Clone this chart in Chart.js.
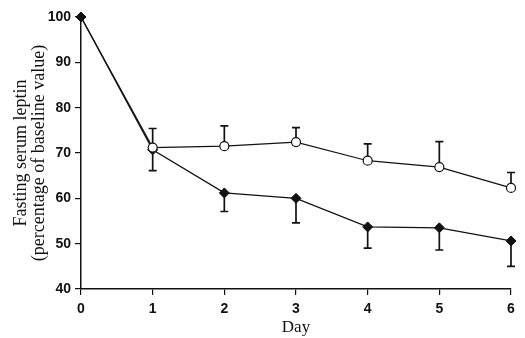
<!DOCTYPE html>
<html>
<head>
<meta charset="utf-8">
<script src="https://cdn.jsdelivr.net/npm/chart.js@4"></script>
<style>
  html, body { margin: 0; padding: 0; background: #fff; }
  #wrap { width: 525px; height: 338px; }
</style>
</head>
<body>
<div id="wrap"><canvas id="c" width="525" height="338"></canvas></div>
<script>
// data (% of baseline)
const days = [0, 1, 2, 3, 4, 5, 6];
const openMeans = [100, 71.2, 71.5, 72.4, 68.3, 66.9, 62.3];
const openErrUp = [0, 4.2, 4.5, 3.2, 3.7, 5.6, 3.4];
const filledMeans = [100, 70.7, 61.2, 60.0, 53.7, 53.5, 50.6];
const filledErrDown = [0, 4.6, 4.1, 5.4, 4.7, 4.9, 5.6];
const yTicks = [40, 50, 60, 70, 80, 90, 100];

const toXY = (vals) => vals.map((v, i) => ({ x: days[i], y: v }));

// error bars: open circles upward, diamonds downward
const errorBars = {
  id: 'errorBars',
  beforeDatasetsDraw(chart) {
    const { ctx, scales: { x, y } } = chart;
    const sets = [
      { means: openMeans, err: openErrUp, dir: 1 },
      { means: filledMeans, err: filledErrDown, dir: -1 }
    ];
    ctx.save();
    ctx.strokeStyle = '#111';
    ctx.lineWidth = 1.7;
    sets.forEach(s => {
      s.means.forEach((m, i) => {
        if (!s.err[i]) return;
        const px = x.getPixelForValue(days[i]);
        const y0 = y.getPixelForValue(m);
        const y1 = y.getPixelForValue(m + s.dir * s.err[i]);
        ctx.beginPath();
        ctx.moveTo(px, y0);
        ctx.lineTo(px, y1);
        ctx.moveTo(px - 4, y1);
        ctx.lineTo(px + 4, y1);
        ctx.stroke();
      });
    });
    ctx.restore();
  }
};

const tickFont = { family: 'Liberation Sans', size: 14, weight: 'bold' };

new Chart(document.getElementById('c'), {
  type: 'line',
  data: {
    datasets: [
      {
        label: 'open',
        data: toXY(openMeans),
        borderColor: '#111',
        borderWidth: 1.2,
        pointStyle: 'circle',
        // day 0 is shared with the diamond series, which shows there
        pointRadius: days.map(d => d === 0 ? 0 : 4.5),
        pointBackgroundColor: '#fff',
        pointBorderColor: '#111',
        pointBorderWidth: 1.2,
        tension: 0
      },
      {
        label: 'filled',
        data: toXY(filledMeans),
        borderColor: '#111',
        borderWidth: 1.3,
        pointStyle: 'rectRot',
        pointRadius: 5,
        pointBackgroundColor: '#111',
        pointBorderColor: '#111',
        pointBorderWidth: 1,
        tension: 0
      }
    ]
  },
  options: {
    responsive: false,
    animation: false,
    clip: false,
    layout: { padding: { top: 17, right: 14, left: 0, bottom: 0 } },
    plugins: { legend: { display: false }, tooltip: { enabled: false } },
    scales: {
      x: {
        type: 'linear',
        min: 0,
        max: 6,
        afterFit: (s) => { s.height = 49; },
        ticks: { stepSize: 1, color: '#111', font: tickFont, padding: 6 },
        grid: { drawOnChartArea: false, drawTicks: true, tickLength: 6, color: '#111', lineWidth: 1.2 },
        border: { display: true, color: '#111', width: 1.5 },
        title: {
          display: true, text: 'Day', color: '#111',
          font: { family: 'Liberation Serif', size: 17 },
          padding: { top: 0, bottom: 0 }
        }
      },
      y: {
        min: 40,
        max: 100,
        afterFit: (s) => { s.width = 81; },
        afterBuildTicks: (s) => { s.ticks = yTicks.map(v => ({ value: v })); },
        ticks: { color: '#111', font: tickFont, padding: 4 },
        grid: { drawOnChartArea: false, drawTicks: true, tickLength: 6, color: '#111', lineWidth: 1.2 },
        border: { display: true, color: '#111', width: 1.5 },
        title: {
          display: true,
          text: ['Fasting serum leptin', '(percentage of baseline value)'],
          color: '#111',
          font: { family: 'Liberation Serif', size: 18, lineHeight: 1.0 },
          padding: { top: 12, bottom: 0 }
        }
      }
    }
  },
  plugins: [errorBars]
});
</script>
</body>
</html>
